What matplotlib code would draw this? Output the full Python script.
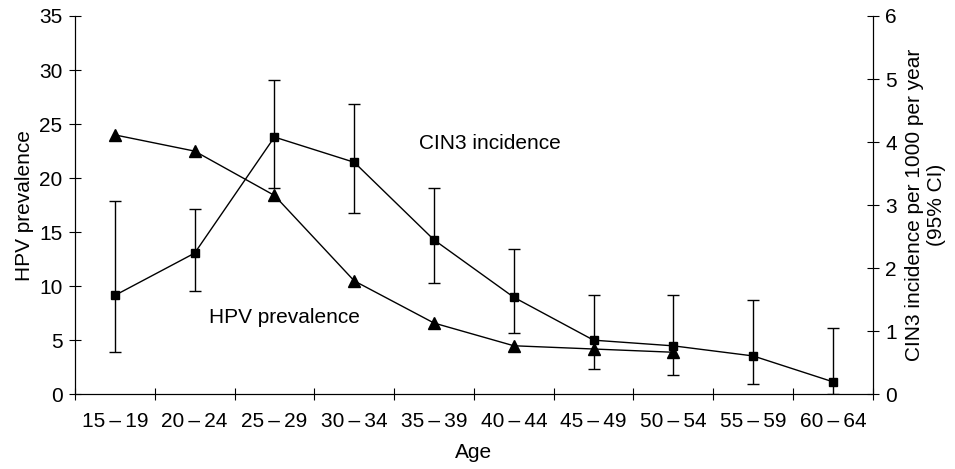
import numpy as np
import matplotlib.pyplot as plt

plt.rcParams['font.family'] = ['Liberation Sans', 'DejaVu Sans']
plt.rcParams['font.size'] = 15

ages = ['15\u2009\u2013\u200919', '20\u2009\u2013\u200924', '25\u2009\u2013\u200929', '30\u2009\u2013\u200934',
        '35\u2009\u2013\u200939', '40\u2009\u2013\u200944', '45\u2009\u2013\u200949', '50\u2009\u2013\u200954',
        '55\u2009\u2013\u200959', '60\u2009\u2013\u200964']

# HPV prevalence (left axis), only first 8 age groups
hpv_prev = [24.0, 22.5, 18.4, 10.5, 6.6, 4.5, 4.2, 3.9]

# CIN3 incidence per 1000 per year (right axis) with 95% CI
cin3 = [1.57, 2.24, 4.08, 3.68, 2.45, 1.54, 0.86, 0.77, 0.61, 0.20]
cin3_hi = [3.06, 2.94, 4.98, 4.61, 3.28, 2.30, 1.57, 1.57, 1.50, 1.05]
cin3_lo = [0.68, 1.64, 3.28, 2.88, 1.77, 0.98, 0.41, 0.31, 0.17, 0.00]

x = np.arange(len(ages))
cin3 = np.array(cin3)
yerr = [cin3 - np.array(cin3_lo), np.array(cin3_hi) - cin3]

fig = plt.figure(figsize=(9.55, 4.69), dpi=100)
ax = fig.add_axes([0.0785, 0.159, 0.8355, 0.807])
ax2 = ax.twinx()

ax.plot(x[:len(hpv_prev)], hpv_prev, color='black', lw=1, marker='^', markersize=8)
ax2.errorbar(x, cin3, yerr=yerr, color='black', lw=1, marker='s', markersize=6,
             capsize=4, elinewidth=1, capthick=1)

ax.set_xlim(-0.5, len(ages) - 0.5)
ax.set_ylim(0, 35)
ax2.set_ylim(0, 6)
ax.set_yticks(range(0, 36, 5))
ax2.set_yticks(range(0, 7))

ax.set_xticks(np.arange(-0.5, len(ages), 1))
ax.set_xticklabels([])
ax.set_xticks(x, minor=True)
ax.set_xticklabels(ages, minor=True)
ax.tick_params(axis='x', which='major', direction='inout', length=8)
ax.tick_params(axis='x', which='minor', length=0, pad=13)
ax.tick_params(axis='y', direction='inout', length=8, pad=5)
ax2.tick_params(axis='y', direction='inout', length=8, pad=5)

for a in (ax, ax2):
    a.spines['top'].set_visible(False)

ax.set_xlabel('Age', labelpad=8)
ax.set_ylabel('HPV prevalence', labelpad=4)
ax2.set_ylabel('CIN3 incidence per 1000 per year\n(95% CI)', labelpad=6, linespacing=1.15)

ax2.text(4.7, 3.97, 'CIN3 incidence', ha='center', va='center')
ax.text(2.12, 7.1, 'HPV prevalence', ha='center', va='center')

plt.savefig('out.png', dpi=100)
